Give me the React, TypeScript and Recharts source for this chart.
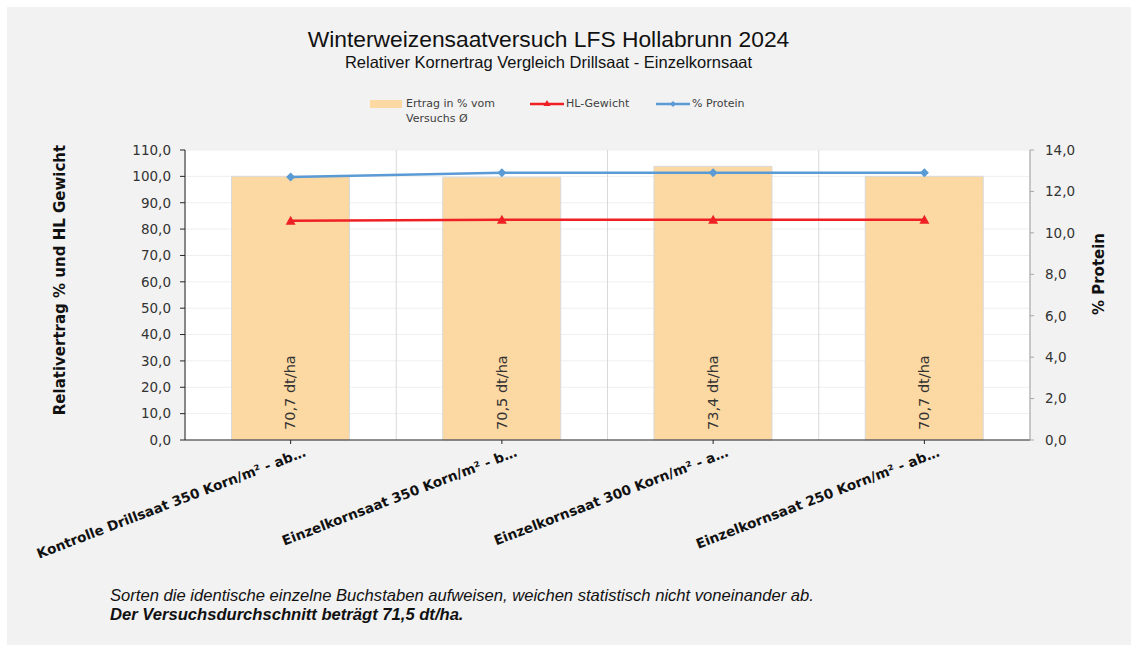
import React from 'react';
import { ComposedChart, Bar, Line, XAxis, YAxis, CartesianGrid, Legend, LabelList } from 'recharts';

const categories = [
  'Kontrolle Drillsaat 350 Korn/m² - ab…',
  'Einzelkornsaat 350 Korn/m² - b…',
  'Einzelkornsaat 300 Korn/m² - a…',
  'Einzelkornsaat 250 Korn/m² - ab…',
];
const relYield = [100.0, 99.7, 103.8, 100.0];
const yieldDtHa = [70.7, 70.5, 73.4, 70.7];
const hlWeight = [83.2, 83.5, 83.5, 83.5];
const protein = [12.7, 12.9, 12.9, 12.9];

const leftTicks = [0, 10, 20, 30, 40, 50, 60, 70, 80, 90, 100, 110];
const rightTicks = [0, 2, 4, 6, 8, 10, 12, 14];
const boundaryTicks = [0, 1, 2, 3, 4];

const BAR_COLOR = '#fcd8a2';
const HL_COLOR = '#ee2024';
const PROTEIN_COLOR = '#5b9bd5';
const TICK_FONT = "'DejaVu Sans', Verdana, sans-serif";

const data = categories.map((name, i) => ({
  name,
  idx: i + 0.5,
  rel: relYield[i],
  dtha: yieldDtHa[i],
  hl: hlWeight[i],
  protein: protein[i],
}));

const fmt1 = (v: number) => v.toFixed(1).replace('.', ',');

const CategoryTick = ({ x, y, payload }: any) => (
  <text
    transform={`translate(${x + 16},${y + 10}) rotate(-21)`}
    textAnchor="end"
    fontFamily={TICK_FONT}
    fontWeight={700}
    fontSize={13.6}
    fill="#111"
  >
    {payload.value}
  </text>
);

const Triangle = (props: any) => {
  const { cx, cy, index } = props;
  if (cx == null || cy == null) return null;
  return (
    <polygon
      key={`tri-${index}`}
      points={`${cx},${cy - 5} ${cx - 5},${cy + 4} ${cx + 5},${cy + 4}`}
      fill={HL_COLOR}
    />
  );
};

const Diamond = (props: any) => {
  const { cx, cy, index } = props;
  if (cx == null || cy == null) return null;
  return (
    <polygon
      key={`dia-${index}`}
      points={`${cx},${cy - 4.5} ${cx + 4.5},${cy} ${cx},${cy + 4.5} ${cx - 4.5},${cy}`}
      fill={PROTEIN_COLOR}
    />
  );
};

const BarValueLabel = (props: any) => {
  const { x, y, width, height, value } = props;
  const cx = x + width / 2 + 5;
  const by = y + height - 10;
  return (
    <text
      transform={`translate(${cx},${by}) rotate(-90)`}
      textAnchor="start"
      fontFamily={TICK_FONT}
      fontSize={14.5}
      fill="#333"
    >
      {`${fmt1(value)} dt/ha`}
    </text>
  );
};

const LegendContent = () => {
  const txt: React.CSSProperties = {
    fontFamily: TICK_FONT,
    fontSize: 11,
    color: '#404040',
    lineHeight: '15px',
  };
  return (
    <div style={{ position: 'relative', height: 34 }}>
      <div style={{ position: 'absolute', left: 370, top: 0, display: 'flex' }}>
        <div style={{ width: 32, height: 8, background: BAR_COLOR, marginTop: 4, marginRight: 4 }} />
        <div style={txt}>
          Ertrag in % vom
          <br />
          Versuchs Ø
        </div>
      </div>
      <div style={{ position: 'absolute', left: 530, top: 0, display: 'flex', alignItems: 'flex-start' }}>
        <svg width={34} height={15}>
          <line x1={0} y1={8} x2={34} y2={8} stroke={HL_COLOR} strokeWidth={2.5} />
          <polygon points="17,4 13.5,10 20.5,10" fill={HL_COLOR} />
        </svg>
        <div style={{ ...txt, marginLeft: 2 }}>HL-Gewicht</div>
      </div>
      <div style={{ position: 'absolute', left: 656, top: 0, display: 'flex', alignItems: 'flex-start' }}>
        <svg width={34} height={15}>
          <line x1={0} y1={8} x2={34} y2={8} stroke={PROTEIN_COLOR} strokeWidth={2.5} />
          <polygon points="17,5 20,8 17,11 14,8" fill={PROTEIN_COLOR} />
        </svg>
        <div style={{ ...txt, marginLeft: 2 }}>% Protein</div>
      </div>
    </div>
  );
};

const LeftTitle = ({ viewBox }: any) => {
  const cx = viewBox.x - 40;
  const cy = viewBox.y + viewBox.height / 2 - 15;
  return (
    <text
      transform={`translate(${cx},${cy}) rotate(-90)`}
      textAnchor="middle"
      fontFamily={TICK_FONT}
      fontWeight={700}
      fontSize={15}
      fill="#111"
    >
      Relativertrag % und HL Gewicht
    </text>
  );
};

const RightTitle = ({ viewBox }: any) => {
  const cx = viewBox.x + 74;
  const cy = viewBox.y + viewBox.height / 2 - 21;
  return (
    <text
      transform={`translate(${cx},${cy}) rotate(-90)`}
      textAnchor="middle"
      fontFamily={TICK_FONT}
      fontWeight={700}
      fontSize={15}
      fill="#111"
    >
      % Protein
    </text>
  );
};

export default function App() {
  return (
    <div style={{ position: 'absolute', left: 0, top: 0, width: 1133, height: 648, background: '#fff' }}>
      <div style={{ position: 'absolute', left: 7, top: 7, width: 1124, height: 638, background: '#f2f2f2' }} />
      <div
        style={{
          position: 'absolute',
          left: 0,
          top: 25,
          width: 1097,
          textAlign: 'center',
          fontFamily: "'Liberation Sans Narrow', 'Arial Narrow', 'Liberation Sans', sans-serif",
          fontSize: 22.8,
          color: '#111',
          lineHeight: '28px',
        }}
      >
        Winterweizensaatversuch LFS Hollabrunn 2024
      </div>
      <div
        style={{
          position: 'absolute',
          left: 0,
          top: 52,
          width: 1097,
          textAlign: 'center',
          fontFamily: "'Liberation Sans Narrow', 'Arial Narrow', 'Liberation Sans', sans-serif",
          fontSize: 16.5,
          color: '#111',
          lineHeight: '20px',
        }}
      >
        Relativer Kornertrag Vergleich Drillsaat - Einzelkornsaat
      </div>
      <div style={{ position: 'absolute', left: 0, top: 0 }}>
        <ComposedChart
          width={1133}
          height={648}
          data={data}
          margin={{ top: 150, right: 33, bottom: 88, left: 105 }}
          barCategoryGap="22%"
        >
          <CartesianGrid yAxisId="left" vertical={false} stroke="#efefef" fill="#ffffff" />
          <CartesianGrid xAxisId="grid" yAxisId="left" horizontal={false} stroke="#d9d9d9" />
          <XAxis
            dataKey="name"
            height={120}
            interval={0}
            axisLine={{ stroke: '#262626' }}
            tickLine={{ stroke: '#262626' }}
            tickSize={4}
            tick={<CategoryTick />}
          />
          <XAxis
            xAxisId="grid"
            type="number"
            dataKey="idx"
            domain={[0, 4]}
            ticks={boundaryTicks}
            orientation="top"
            hide
          />
          <YAxis
            yAxisId="left"
            width={80}
            domain={[0, 110]}
            ticks={leftTicks}
            interval={0}
            tickFormatter={fmt1}
            axisLine={{ stroke: '#262626' }}
            tickLine={{ stroke: '#262626' }}
            tickSize={5}
            tickMargin={9}
            tick={{ fontFamily: TICK_FONT, fontSize: 13.5, fill: '#333' }}
            label={<LeftTitle />}
          />
          <YAxis
            yAxisId="right"
            orientation="right"
            width={70}
            domain={[0, 14]}
            ticks={rightTicks}
            interval={0}
            tickFormatter={fmt1}
            axisLine={{ stroke: '#a6a6a6' }}
            tickLine={{ stroke: '#a6a6a6' }}
            tickSize={4}
            tickMargin={11}
            tick={{ fontFamily: TICK_FONT, fontSize: 13.5, fill: '#333' }}
            label={<RightTitle />}
          />
          <Legend
            layout="horizontal"
            verticalAlign="middle"
            align="center"
            wrapperStyle={{ top: 96, left: 0, width: 1133 }}
            content={<LegendContent />}
          />
          <Bar
            yAxisId="left"
            dataKey="rel"
            name="Ertrag in % vom Versuchs Ø"
            fill={BAR_COLOR}
            stroke="#d9d9d9"
            strokeWidth={1}
            isAnimationActive={false}
          >
            <LabelList dataKey="dtha" content={<BarValueLabel />} />
          </Bar>
          <Line
            yAxisId="left"
            dataKey="hl"
            name="HL-Gewicht"
            stroke={HL_COLOR}
            strokeWidth={2.5}
            dot={<Triangle />}
            activeDot={false}
            isAnimationActive={false}
          />
          <Line
            yAxisId="right"
            dataKey="protein"
            name="% Protein"
            stroke={PROTEIN_COLOR}
            strokeWidth={2.5}
            dot={<Diamond />}
            activeDot={false}
            isAnimationActive={false}
          />
        </ComposedChart>
      </div>
      <div
        style={{
          position: 'absolute',
          left: 110,
          top: 586,
          fontFamily: "'Liberation Sans', Arial, sans-serif",
          fontSize: 16.6,
          lineHeight: '19px',
          color: '#111',
          fontStyle: 'italic',
        }}
      >
        Sorten die identische einzelne Buchstaben aufweisen, weichen statistisch nicht voneinander ab.
        <br />
        <b>Der Versuchsdurchschnitt beträgt 71,5 dt/ha.</b>
      </div>
    </div>
  );
}
